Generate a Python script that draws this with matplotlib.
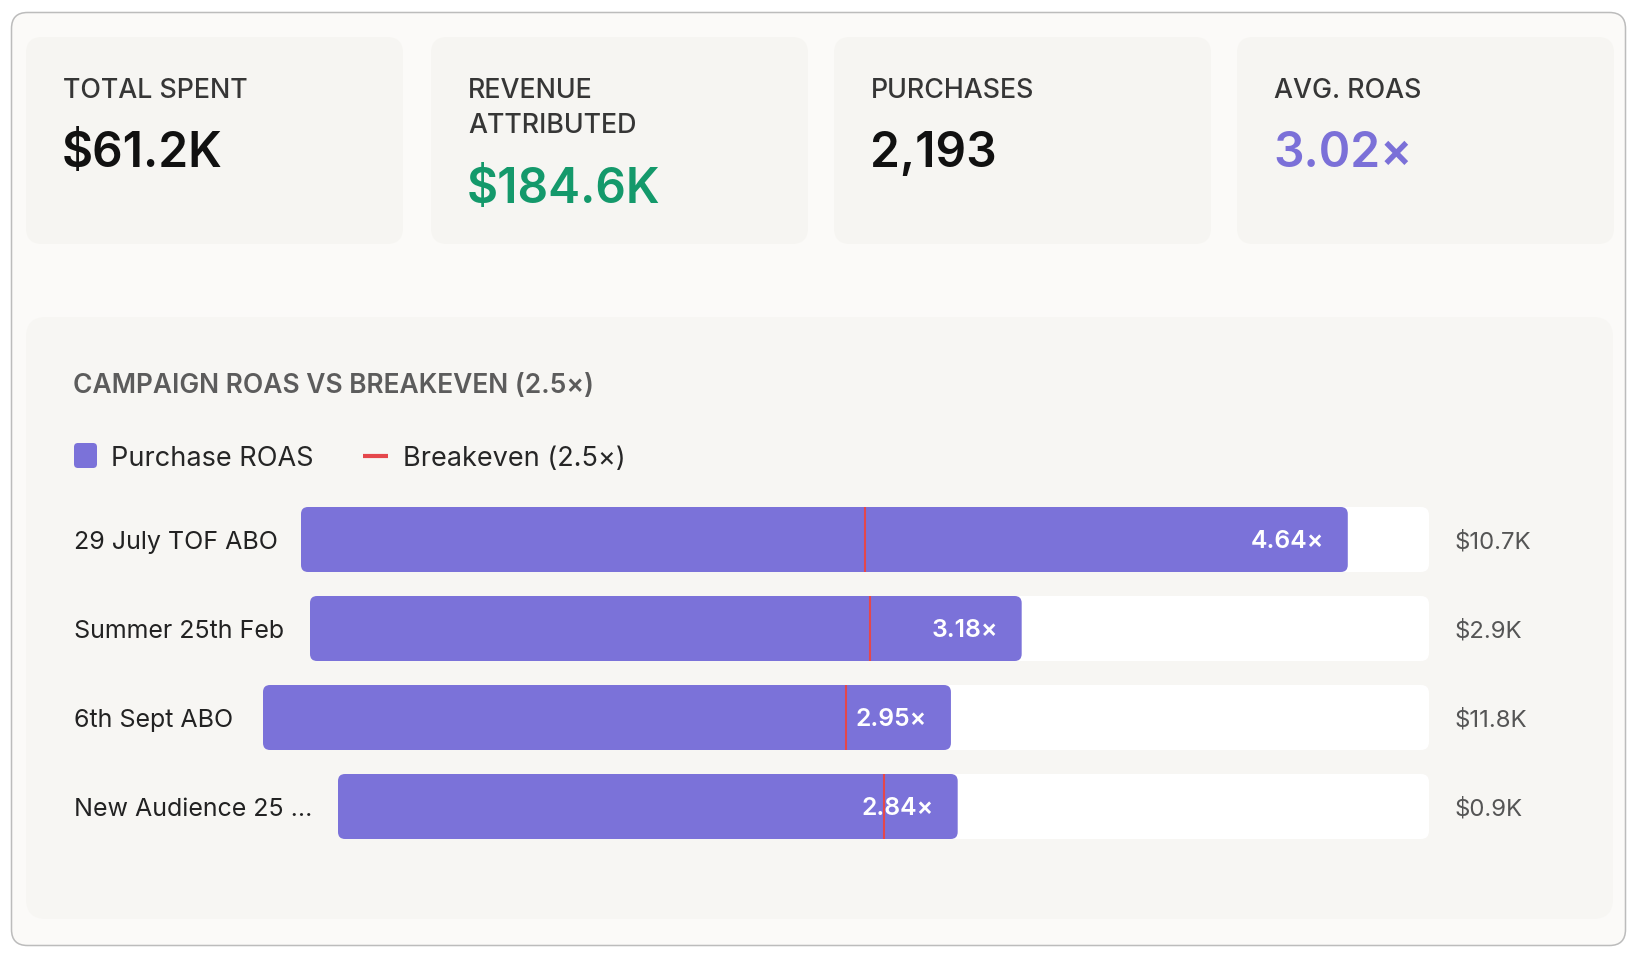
import matplotlib.pyplot as plt
from matplotlib.patches import FancyBboxPatch

plt.rcParams['font.family'] = ['Inter', 'DejaVu Sans']

# --- data ---
kpi_labels = ["TOTAL SPENT", "REVENUE\nATTRIBUTED", "PURCHASES", "AVG. ROAS"]
kpi_values = ["$61.2K", "$184.6K", "2,193", "3.02×"]
kpi_colors = ["#111111", "#14996b", "#111111", "#7b70d8"]

campaigns = ["29 July TOF ABO", "Summer 25th Feb", "6th Sept ABO", "New Audience 25 ..."]
roas = [4.64, 3.18, 2.95, 2.84]
spend_k = [10.7, 2.9, 11.8, 0.9]
breakeven = 2.5
roas_max = 5.0

PURPLE = "#7b72d9"
RED = "#e5474b"

# --- layout (pixels) ---
W, H = 1641, 959
card_left = [26, 431, 834, 1237]
card_w, card_top, card_h = 377, 37, 207
track_left = [301, 310, 263, 338]   # bars start after the label, like the html flex row
track_right = 1429
row_top = [507, 596, 685, 774]
bar_h = 65

fig = plt.figure(figsize=(W / 100, H / 100), dpi=100)
fig.patch.set_facecolor("white")
bg = fig.add_axes([0, 0, 1, 1])
bg.set_xlim(0, W)
bg.set_ylim(H, 0)
bg.axis("off")


def rbox(ax, x, y, w, h, r, fc, ec="none", lw=0, z=1):
    ax.add_patch(FancyBboxPatch((x, y), w, h, boxstyle=f"round,pad=0,rounding_size={r}",
                                fc=fc, ec=ec, lw=lw, zorder=z))


# outer card + inner panels
rbox(bg, 11.5, 12.5, 1614, 933, 16, "#fbfaf8", ec="#bcbcbc", lw=1.1)
for x in card_left:
    rbox(bg, x, card_top, card_w, card_h, 16, "#f6f5f2", z=2)
rbox(bg, 26, 317, 1587, 602, 20, "#f7f6f3", z=2)

# KPI cards
for x, lab, val, col in zip(card_left, kpi_labels, kpi_values, kpi_colors):
    lines = lab.split("\n")
    for j, line in enumerate(lines):
        bg.text(x + 37, 98 + 35 * j, line, fontsize=19.3, color="#363636",
                fontweight="medium", va="baseline", ha="left", zorder=3)
    bg.text(x + 36, 167 + 36 * (len(lines) - 1), val, fontsize=34.5, color=col,
            fontweight="semibold", va="baseline", ha="left", zorder=3)

# chart title and legend
bg.text(73, 393, "CAMPAIGN ROAS VS BREAKEVEN (2.5×)", fontsize=19, color="#5c5c5c",
        fontweight="semibold", va="baseline", ha="left", zorder=3)
rbox(bg, 74, 443, 23, 25, 4, PURPLE, z=3)
bg.text(111, 466, "Purchase ROAS", fontsize=19.5, color="#262626", va="baseline", zorder=3)
bg.plot([363, 388], [456, 456], color=RED, lw=3, solid_capstyle="butt", zorder=3)
bg.text(403, 466, "Breakeven (2.5×)", fontsize=19.5, color="#262626", va="baseline", zorder=3)

# one axes per campaign row, each scaled 0..5x
for i, (name, v, s) in enumerate(zip(campaigns, roas, spend_k)):
    L = track_left[i]
    top = row_top[i]
    mid = top + bar_h / 2
    bg.text(74, mid + 9, name, fontsize=18, color="#222222", va="baseline", zorder=3)
    bg.text(1455, mid + 9, f"${s:.1f}K", fontsize=17.2, color="#555555", va="baseline", zorder=3)

    wpx = track_right - L
    ax = fig.add_axes([L / W, 1 - (top + bar_h) / H, wpx / W, bar_h / H])
    ax.set_xlim(0, roas_max)
    ax.set_ylim(0, 1)
    ax.axis("off")
    asp = wpx / (roas_max * bar_h)
    ax.add_patch(FancyBboxPatch((0, 0), roas_max, 1,
                                boxstyle=f"round,pad=0,rounding_size={8 * roas_max / wpx}",
                                mutation_aspect=asp, fc="white", ec="none", zorder=1))
    ax.add_patch(FancyBboxPatch((0, 0), v, 1,
                                boxstyle=f"round,pad=0,rounding_size={7 * roas_max / wpx}",
                                mutation_aspect=asp, fc=PURPLE, ec="none", zorder=2))
    ax.annotate(f"{v:.2f}×", xy=(v, 0.5), xytext=(-24, -8.5), textcoords="offset pixels",
                ha="right", va="baseline", color="white", fontsize=17.8,
                fontweight="semibold", zorder=3, annotation_clip=False)
    ax.axvline(breakeven, color=RED, lw=1.5, zorder=4)

fig.savefig("out.png", dpi=100)
